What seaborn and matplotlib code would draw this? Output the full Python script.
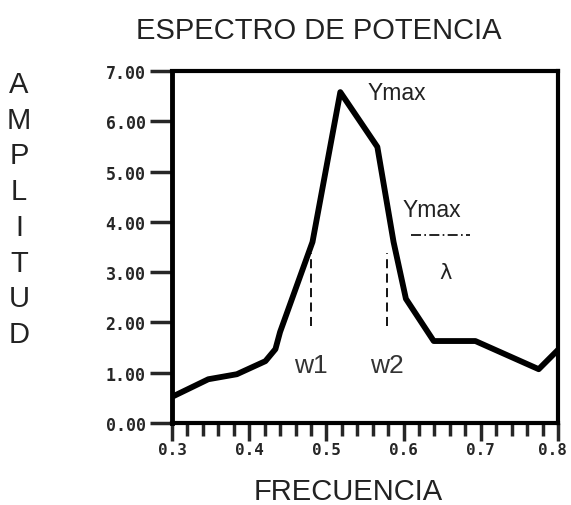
import matplotlib
matplotlib.use("Agg")
import matplotlib.pyplot as plt
import matplotlib.transforms as mtransforms
import seaborn as sns
import pandas as pd
import numpy as np

# Data
frecuencia = [0.300, 0.347, 0.384, 0.421, 0.434, 0.440, 0.482, 0.518, 0.566, 0.587, 0.603, 0.639, 0.693, 0.775, 0.801]
amplitud   = [0.52, 0.87, 0.97, 1.23, 1.47, 1.81, 3.60, 6.58, 5.49, 3.60, 2.47, 1.63, 1.63, 1.07, 1.47]
w_x = [0.480, 0.579]
w_labels = ["w1", "w2"]
w_y0, w_y1 = 1.92, 3.38
xticks = [0.3, 0.4, 0.5, 0.6, 0.7, 0.8]
xticklabels = ["0.3", "0.4", "0.5", "0.6", "0.7", "0.8"]
yticks = [0, 1, 2, 3, 4, 5, 6, 7]
yticklabels = ["0.00", "1.00", "2.00", "3.00", "4.00", "5.00", "6.00", "7.00"]

df = pd.DataFrame({"FRECUENCIA": frecuencia, "AMPLITUD": amplitud})

sns.set_style("ticks")
plt.rcParams['font.family'] = ['Liberation Sans', 'DejaVu Sans']

fig = plt.figure(figsize=(5.71, 5.06), dpi=100)
ax = fig.add_axes([172/571, 1-424/506, (558-172)/571, (424-72)/506])

sns.lineplot(data=df, x="FRECUENCIA", y="AMPLITUD", ax=ax, color="black",
             linewidth=4.2, sort=False, solid_joinstyle="round", solid_capstyle="butt")

ax.set_xlim(0.3, 0.8)
ax.set_ylim(0, 7)

for s in ax.spines.values():
    s.set_linewidth(3)
    s.set_color("black")
ax.spines["left"].set_linewidth(3.5)

ax.set_xticks(xticks)
ax.set_xticklabels(xticklabels, fontfamily="DejaVu Sans Mono", fontweight="bold", fontsize=11.5)
ax.set_xticks(np.arange(0.3, 0.801, 0.02), minor=True)
ax.set_yticks(yticks)
ax.set_yticklabels(yticklabels, fontfamily="DejaVu Sans Mono", fontweight="bold", fontsize=12)
ax.tick_params(axis="y", which="major", length=16, width=2.5, pad=3, direction="out")
ax.tick_params(axis="x", which="major", length=13, width=2.5, pad=1, direction="out")
ax.tick_params(axis="x", which="minor", length=9, width=2.5, direction="out")
ax.set_xlabel("")
ax.set_ylabel("")

# nudge the last x tick label inward so it is not clipped
last = ax.get_xticklabels()[-1]
last.set_transform(last.get_transform() + mtransforms.ScaledTranslation(-4/72, 0, fig.dpi_scale_trans))

# dashed verticals and labels
for xv, lab in zip(w_x, w_labels):
    ax.plot([xv, xv], [w_y0, w_y1], color="black", linestyle=(0, (5, 3)), linewidth=1.3)
    ax.text(xv, 1.15, lab, ha="center", va="center", fontsize=19, color="#333333")

ax.text(0.553, 6.57, "Ymax", ha="left", va="center", fontsize=16.5, color="#222222")
ax.text(0.599, 4.25, "Ymax", ha="left", va="center", fontsize=16.5, color="#222222")
ax.plot([0.609, 0.686], [3.74, 3.74], color="black", linestyle=(0, (6, 2, 1, 2)), linewidth=1.2)
ax.text(0.654, 3.0, "λ", ha="center", va="center", fontsize=15, color="#222222",
        fontfamily="DejaVu Sans")

fig.text(319/571, 1-31/506, "ESPECTRO DE POTENCIA", ha="center", va="center", fontsize=21, color="#222222")
fig.text(348/571, 1-492/506, "FRECUENCIA", ha="center", va="center", fontsize=21, color="#222222")
fig.text(19/571, 1-210/506, "\n".join("AMPLITUD"), ha="center", va="center", fontsize=21,
         color="#222222", linespacing=1.35)

fig.savefig("out.png", dpi=100)
